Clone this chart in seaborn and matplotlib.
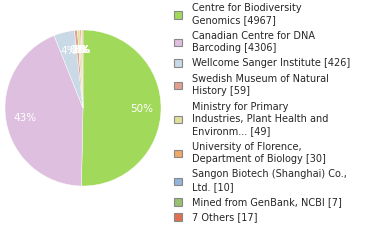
import matplotlib
matplotlib.use("Agg")
import matplotlib.pyplot as plt
import seaborn as sns
from matplotlib.patches import Patch

sns.set_style("white")
plt.rcParams['font.family'] = ['DejaVu Sans']

labels = [
    "Centre for Biodiversity\nGenomics [4967]",
    "Canadian Centre for DNA\nBarcoding [4306]",
    "Wellcome Sanger Institute [426]",
    "Swedish Museum of Natural\nHistory [59]",
    "Ministry for Primary\nIndustries, Plant Health and\nEnvironm... [49]",
    "University of Florence,\nDepartment of Biology [30]",
    "Sangon Biotech (Shanghai) Co.,\nLtd. [10]",
    "Mined from GenBank, NCBI [7]",
    "7 Others [17]",
]
values = [4967, 4306, 426, 59, 49, 30, 10, 7, 17]
colors = ["#a1d95b", "#dfbfdf", "#c9d9e5", "#e0a090", "#dde09a",
          "#f0a868", "#94b4dc", "#98c070", "#e07050"]

fig = plt.figure(figsize=(3.8, 2.4), dpi=100)
cx, cy, r = 83, 108, 78
ax = fig.add_axes([(cx - r) / 380, (240 - cy - r) / 240, 2 * r / 380, 2 * r / 240])
wedges, texts, autotexts = ax.pie(
    values, colors=colors, startangle=90, counterclock=False,
    autopct=lambda p: f"{int(p)}%", pctdistance=0.75,
    wedgeprops=dict(linewidth=0.3, edgecolor="white"),
    textprops=dict(color="white", fontsize=7.5),
)
ax.set_xlim(-1, 1)
ax.set_ylim(-1, 1)
ax.set_aspect("equal")

handles = [Patch(facecolor=c, edgecolor="#888888", linewidth=0.8) for c in colors]
leg = fig.legend(handles, labels, loc="upper left", bbox_to_anchor=(173 / 380, 1.0 - 2 / 240),
                 frameon=False, fontsize=7, handlelength=0.8, handleheight=0.8,
                 handletextpad=1.1, labelspacing=0.55, borderaxespad=0.0,
                 borderpad=0.1)
for t in leg.get_texts():
    t.set_linespacing(1.3)
fig.savefig("out.png", dpi=100)
